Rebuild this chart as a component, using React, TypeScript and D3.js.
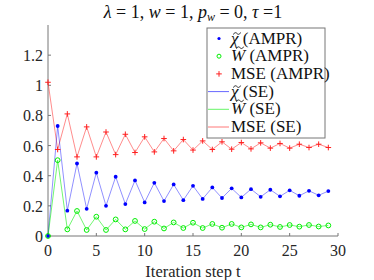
import React from 'react';
import * as d3 from 'd3';

// iteration steps 0..29
const steps = d3.range(0, 30);

const chiValues = [0, 0.73, 0.168, 0.481, 0.18, 0.42, 0.2, 0.393, 0.212, 0.369, 0.223, 0.353, 0.232, 0.342, 0.238, 0.333,
  0.246, 0.322, 0.252, 0.316, 0.256, 0.311, 0.26, 0.307, 0.263, 0.303, 0.267, 0.3, 0.27, 0.298];
const wValues = [0, 0.503, 0.044, 0.166, 0.04, 0.128, 0.04, 0.11, 0.044, 0.1, 0.046, 0.095, 0.05, 0.09, 0.053, 0.088,
  0.053, 0.08, 0.055, 0.08, 0.057, 0.077, 0.057, 0.075, 0.06, 0.073, 0.062, 0.073, 0.063, 0.07];
const mseValues = [1.02, 0.574, 0.81, 0.525, 0.724, 0.525, 0.69, 0.54, 0.675, 0.554, 0.658, 0.558, 0.647, 0.565, 0.64, 0.57,
  0.631, 0.574, 0.625, 0.576, 0.62, 0.578, 0.618, 0.583, 0.614, 0.583, 0.609, 0.587, 0.609, 0.587];

const xTicks = [0, 5, 10, 15, 20, 25, 30];
const yTicks = [0, 0.2, 0.4, 0.6, 0.8, 1, 1.2];

const blue = '#0000ff';
const green = '#00ee00';
const red = '#ff2020';
const font = '"Liberation Serif", "DejaVu Serif", serif';

export default function App() {
  const x = d3.scaleLinear().domain([0, 30]).range([48, 338]);
  const y = d3.scaleLinear().domain([0, 1.4]).range([236, 25]);

  const line = d3.line<number>()
    .x((d, i) => x(steps[i]))
    .y(d => y(d));

  const plus = (cx: number, cy: number, c: string, k: string) => (
    <path key={k} d={`M${cx - 2.8},${cy}H${cx + 2.8}M${cx},${cy - 2.8}V${cy + 2.8}`} stroke={c} strokeWidth={1} />
  );

  // small tilde accent drawn as a path
  const tilde = (cx: number, cy: number) =>
    `M${cx - 3.5},${cy + 1} C${cx - 2.5},${cy - 1.5} ${cx - 1},${cy - 1} ${cx},${cy} S${cx + 2.5},${cy + 1.5} ${cx + 3.5},${cy - 1}`;

  const legendRows = [
    { label: 'χ', acc: 1, rest: ' (AMPR)', kind: 'dot' },
    { label: 'W', acc: 2, rest: ' (AMPR)', kind: 'circle' },
    { label: 'MSE', acc: 0, rest: ' (AMPR)', kind: 'plus' },
    { label: 'χ', acc: 1, rest: ' (SE)', kind: 'lineB' },
    { label: 'W', acc: 2, rest: ' (SE)', kind: 'lineG' },
    { label: 'MSE', acc: 0, rest: ' (SE)', kind: 'lineR' },
  ];

  return (
    <svg width={374} height={280} style={{ position: 'absolute', left: 0, top: 0, background: '#fff' }}>
      <text x={193} y={18} textAnchor="middle" fontFamily={font} fontSize={18} fill="#111">
        <tspan fontStyle="italic">λ</tspan> = 1, <tspan fontStyle="italic">w</tspan> = 1, <tspan fontStyle="italic">p</tspan>
        <tspan fontStyle="italic" fontSize={12} dy={3}>w</tspan>
        <tspan dy={-3}> = 0, </tspan><tspan fontStyle="italic">τ</tspan> =1
      </text>

      {/* axes */}
      <line x1={48} x2={48} y1={25} y2={236} stroke="#777" />
      <line x1={48} x2={338} y1={236} y2={236} stroke="#777" />
      {xTicks.map(t => (
        <g key={'x' + t}>
          <line x1={x(t)} x2={x(t)} y1={236} y2={233} stroke="#777" />
          <text x={x(t)} y={255.5} textAnchor="middle" fontFamily={font} fontSize={16} fill="#262626">{t}</text>
        </g>
      ))}
      {yTicks.map(t => (
        <g key={'y' + t}>
          <line x1={48} x2={51} y1={y(t)} y2={y(t)} stroke="#777" />
          <text x={43} y={y(t) + 6} textAnchor="end" fontFamily={font} fontSize={16} fill="#262626">{t}</text>
        </g>
      ))}
      <text x={193} y={277} textAnchor="middle" fontFamily={font} fontSize={16.5} fill="#262626">Iteration step t</text>

      {/* SE lines */}
      <path d={line(mseValues) || ''} fill="none" stroke={red} strokeOpacity={0.65} strokeWidth={0.8} />
      <path d={line(chiValues) || ''} fill="none" stroke={blue} strokeOpacity={0.55} strokeWidth={0.8} />
      <path d={line(wValues) || ''} fill="none" stroke={green} strokeOpacity={0.7} strokeWidth={0.8} />

      {/* AMPR markers */}
      {mseValues.map((v, i) => plus(x(steps[i]), y(v), red, 'm' + i))}
      {chiValues.map((v, i) => <circle key={'c' + i} cx={x(steps[i])} cy={y(v)} r={1.9} fill={blue} />)}
      {wValues.map((v, i) => <circle key={'w' + i} cx={x(steps[i])} cy={y(v)} r={2.4} fill="none" stroke={green} strokeWidth={1} />)}

      {/* legend */}
      <rect x={207} y={28} width={118} height={110} fill="#fff" stroke="#777" />
      {legendRows.map((r, i) => {
        const ry = 38.5 + i * 17.7;
        let mark;
        if (r.kind === 'dot') mark = <circle cx={219} cy={ry} r={1.6} fill={blue} />;
        else if (r.kind === 'circle') mark = <circle cx={219} cy={ry} r={2} fill="none" stroke={green} />;
        else if (r.kind === 'plus') mark = plus(219, ry, red, 'lp');
        else {
          const c = r.kind === 'lineB' ? blue : r.kind === 'lineG' ? green : red;
          mark = <line x1={208} x2={229} y1={ry} y2={ry} stroke={c} strokeOpacity={0.6} />;
        }
        return (
          <g key={'l' + i}>
            {mark}
            <text x={231} y={ry + 5} fontFamily={font} fontSize={17} fill="#111">
              <tspan fontStyle={r.acc ? 'italic' : 'normal'}>{r.label}</tspan>{r.rest}
            </text>
            {r.acc > 0 && (
              <path d={tilde(r.acc === 1 ? 237 : 240, ry + (r.acc === 1 ? -5 : -8.5))} fill="none" stroke="#111" strokeWidth={0.9} />
            )}
          </g>
        );
      })}
    </svg>
  );
}
